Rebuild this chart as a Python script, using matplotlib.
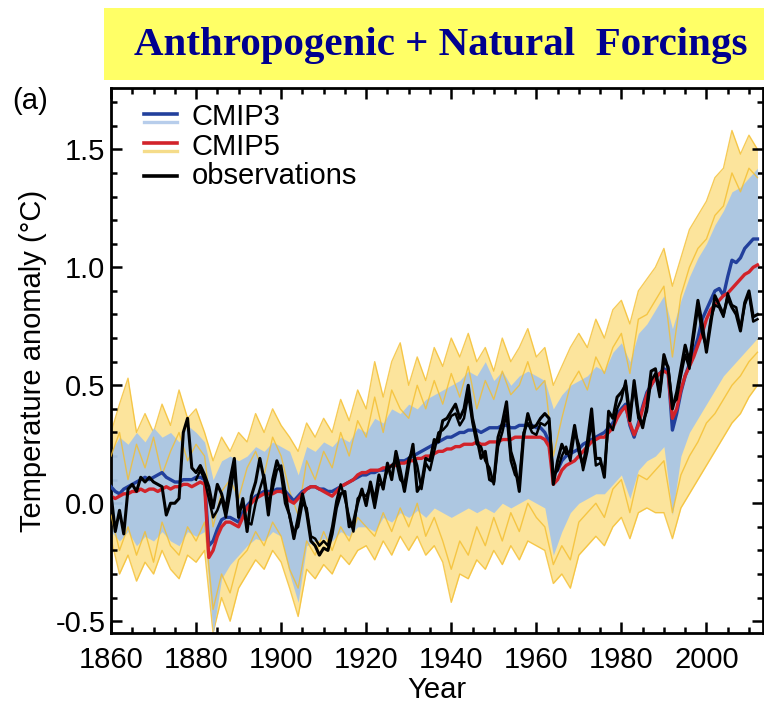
import numpy as np
import matplotlib
matplotlib.use("Agg")
import matplotlib.pyplot as plt
from matplotlib.patches import Rectangle
from matplotlib.lines import Line2D
from matplotlib.legend_handler import HandlerBase
from matplotlib.ticker import MultipleLocator, FormatStrFormatter

# ---------------- data ----------------
years = list(range(1860, 2013))            # annual
env_years = list(range(1860, 2013, 2))     # ensemble envelope sampling

obs_a = [
    0.04, -0.12, -0.03, -0.13, 0.06, 0.08, 0.05, 0.11, 0.09, 0.11,
    0.09, 0.08, 0.07, -0.05, 0.00, 0.00, 0.02, 0.30, 0.36, 0.15,
    0.13, 0.16, 0.12, 0.07, -0.02, 0.08, 0.04, -0.03, 0.10, 0.19,
    -0.06, 0.02, -0.12, 0.03, 0.09, 0.19, 0.10, -0.05, 0.10, 0.18,
    0.13, 0.00, -0.05, -0.15, -0.06, 0.04, -0.04, -0.16, -0.18, -0.22,
    -0.19, -0.20, -0.13, -0.02, 0.04, 0.05, -0.10, -0.08, 0.00, 0.06,
    -0.01, 0.09, 0.01, 0.12, 0.06, 0.17, 0.10, 0.22, 0.14, 0.05,
    0.16, 0.25, 0.05, 0.08, 0.19, 0.18, 0.27, 0.26, 0.35, 0.36,
    0.39, 0.42, 0.36, 0.40, 0.50, 0.36, 0.28, 0.19, 0.22, 0.10,
    0.09, 0.28, 0.34, 0.43, 0.22, 0.16, 0.05, 0.28, 0.38, 0.32,
    0.33, 0.36, 0.38, 0.36, 0.08, 0.18, 0.25, 0.21, 0.22, 0.33,
    0.22, 0.16, 0.26, 0.40, 0.19, 0.19, 0.11, 0.39, 0.36, 0.45,
    0.47, 0.50, 0.35, 0.52, 0.38, 0.32, 0.41, 0.56, 0.57, 0.47,
    0.63, 0.57, 0.40, 0.47, 0.57, 0.67, 0.60, 0.73, 0.86, 0.76,
    0.64, 0.76, 0.88, 0.84, 0.80, 0.87, 0.83, 0.80, 0.73, 0.85,
    0.90, 0.79, 0.80,
]

obs_b_years = list(range(1880, 2013))
obs_b = [
    0.10, 0.14, 0.10, 0.02, -0.06, -0.03, 0.02, -0.06, 0.04, 0.15,
    -0.04, 0.00, -0.08, -0.09, 0.00, 0.06, 0.12, 0.00, 0.06, 0.14,
    0.16, 0.05, -0.06, -0.12, -0.10, 0.00, -0.02, -0.14, -0.15, -0.18,
    -0.16, -0.18, -0.10, 0.01, 0.08, 0.02, -0.06, -0.12, 0.02, 0.04,
    0.03, 0.07, -0.02, 0.08, 0.08, 0.14, 0.16, 0.18, 0.10, 0.08,
    0.19, 0.22, 0.16, 0.06, 0.17, 0.14, 0.22, 0.30, 0.31, 0.33,
    0.37, 0.38, 0.33, 0.36, 0.46, 0.34, 0.25, 0.24, 0.18, 0.15,
    0.08, 0.24, 0.30, 0.38, 0.18, 0.12, 0.10, 0.30, 0.34, 0.30,
    0.29, 0.34, 0.33, 0.35, 0.12, 0.14, 0.20, 0.24, 0.18, 0.30,
    0.25, 0.14, 0.22, 0.35, 0.16, 0.17, 0.14, 0.34, 0.31, 0.40,
    0.44, 0.52, 0.38, 0.49, 0.36, 0.34, 0.39, 0.52, 0.55, 0.45,
    0.60, 0.58, 0.42, 0.44, 0.54, 0.63, 0.57, 0.70, 0.83, 0.72,
    0.66, 0.78, 0.84, 0.83, 0.79, 0.89, 0.84, 0.83, 0.74, 0.84,
    0.89, 0.77, 0.78,
]

cmip5_mean = [
    0.03, 0.02, 0.03, 0.04, 0.04, 0.05, 0.05, 0.06, 0.05, 0.06,
    0.06, 0.05, 0.06, 0.07, 0.06, 0.07, 0.07, 0.08, 0.08, 0.07,
    0.08, 0.09, 0.08, -0.23, -0.20, -0.14, -0.10, -0.08, -0.08, -0.09,
    -0.10, -0.06, -0.02, 0.00, 0.02, 0.03, 0.04, 0.04, 0.04, 0.05,
    0.05, 0.04, 0.01, 0.00, 0.02, 0.04, 0.06, 0.07, 0.07, 0.06,
    0.05, 0.04, 0.03, 0.05, 0.07, 0.08, 0.09, 0.10, 0.12, 0.13,
    0.13, 0.14, 0.14, 0.14, 0.15, 0.15, 0.16, 0.16, 0.17, 0.17,
    0.18, 0.18, 0.19, 0.19, 0.20, 0.20, 0.21, 0.22, 0.22, 0.23,
    0.23, 0.24, 0.24, 0.25, 0.25, 0.25, 0.26, 0.25, 0.25, 0.26,
    0.26, 0.26, 0.27, 0.27, 0.27, 0.28, 0.28, 0.28, 0.28, 0.28,
    0.28, 0.28, 0.27, 0.24, 0.08, 0.10, 0.14, 0.16, 0.17, 0.18,
    0.20, 0.22, 0.24, 0.26, 0.27, 0.28, 0.28, 0.30, 0.32, 0.36,
    0.39, 0.41, 0.34, 0.29, 0.33, 0.40, 0.46, 0.50, 0.53, 0.55,
    0.56, 0.55, 0.36, 0.40, 0.48, 0.54, 0.58, 0.62, 0.67, 0.72,
    0.78, 0.82, 0.84, 0.86, 0.88, 0.89, 0.91, 0.93, 0.95, 0.97,
    0.98, 1.00, 1.01,
]

cmip3_mean = [
    0.07, 0.05, 0.04, 0.06, 0.07, 0.08, 0.09, 0.10, 0.11, 0.10,
    0.11, 0.12, 0.13, 0.11, 0.10, 0.09, 0.09, 0.10, 0.10, 0.10,
    0.11, 0.11, 0.10, -0.18, -0.16, -0.11, -0.07, -0.06, -0.06, -0.07,
    -0.08, -0.04, -0.01, 0.01, 0.03, 0.04, 0.05, 0.05, 0.05, 0.06,
    0.06, 0.05, 0.03, 0.01, 0.03, 0.05, 0.06, 0.07, 0.07, 0.06,
    0.06, 0.05, 0.05, 0.06, 0.07, 0.08, 0.09, 0.10, 0.11, 0.12,
    0.12, 0.13, 0.13, 0.14, 0.14, 0.15, 0.16, 0.17, 0.18, 0.18,
    0.19, 0.20, 0.21, 0.22, 0.23, 0.24, 0.25, 0.26, 0.27, 0.28,
    0.28, 0.29, 0.30, 0.30, 0.31, 0.31, 0.31, 0.30, 0.31, 0.32,
    0.32, 0.32, 0.33, 0.33, 0.32, 0.32, 0.33, 0.33, 0.33, 0.33,
    0.32, 0.32, 0.30, 0.26, 0.12, 0.14, 0.18, 0.20, 0.21, 0.22,
    0.23, 0.25, 0.26, 0.27, 0.28, 0.29, 0.30, 0.32, 0.34, 0.38,
    0.40, 0.42, 0.33, 0.28, 0.34, 0.41, 0.47, 0.50, 0.53, 0.55,
    0.57, 0.56, 0.31, 0.38, 0.47, 0.54, 0.59, 0.64, 0.70, 0.78,
    0.82, 0.86, 0.90, 0.91, 0.88, 0.96, 1.03, 1.02, 1.04, 1.08,
    1.10, 1.12, 1.12,
]

cmip5_upper = [
    0.30, 0.42, 0.53, 0.30, 0.38, 0.30, 0.42, 0.33, 0.48, 0.36,
    0.40, 0.30, 0.18, 0.28, 0.22, 0.30, 0.26, 0.38, 0.30, 0.40,
    0.33, 0.28, 0.22, 0.34, 0.28, 0.36, 0.30, 0.44, 0.35, 0.48,
    0.40, 0.60, 0.45, 0.60, 0.68, 0.50, 0.62, 0.52, 0.66, 0.58,
    0.70, 0.62, 0.72, 0.60, 0.66, 0.56, 0.70, 0.60, 0.66, 0.74,
    0.62, 0.66, 0.50, 0.58, 0.66, 0.72, 0.66, 0.78, 0.70, 0.82,
    0.86, 0.76, 0.90, 0.95, 1.00, 1.08, 0.92, 1.04, 1.16, 1.22,
    1.28, 1.38, 1.42, 1.58, 1.48, 1.56, 1.50,
]
cmip5_lower = [
    -0.15, -0.30, -0.22, -0.33, -0.25, -0.30, -0.20, -0.28, -0.32, -0.22,
    -0.25, -0.20, -0.55, -0.40, -0.50, -0.36, -0.30, -0.24, -0.28, -0.20,
    -0.25, -0.36, -0.48, -0.28, -0.32, -0.26, -0.30, -0.22, -0.26, -0.20,
    -0.18, -0.24, -0.16, -0.22, -0.14, -0.20, -0.14, -0.22, -0.18, -0.25,
    -0.42, -0.30, -0.32, -0.24, -0.28, -0.20, -0.26, -0.18, -0.24, -0.16,
    -0.18, -0.20, -0.34, -0.30, -0.36, -0.22, -0.18, -0.14, -0.18, -0.10,
    -0.06, -0.15, -0.04, -0.02, -0.04, -0.04, -0.15, -0.02, 0.04, 0.10,
    0.16, 0.22, 0.28, 0.34, 0.38, 0.45, 0.50,
]
cmip3_upper = [
    0.22, 0.28, 0.25, 0.30, 0.26, 0.32, 0.28, 0.30, 0.26, 0.33,
    0.30, 0.26, 0.10, 0.18, 0.20, 0.18, 0.20, 0.24, 0.22, 0.26,
    0.24, 0.22, 0.12, 0.24, 0.22, 0.26, 0.24, 0.28, 0.26, 0.32,
    0.30, 0.36, 0.34, 0.40, 0.38, 0.42, 0.40, 0.44, 0.46, 0.48,
    0.50, 0.52, 0.56, 0.54, 0.60, 0.52, 0.56, 0.50, 0.54, 0.56,
    0.54, 0.52, 0.40, 0.46, 0.50, 0.52, 0.54, 0.58, 0.56, 0.64,
    0.68, 0.60, 0.72, 0.76, 0.82, 0.88, 0.74, 0.86, 0.96, 1.04,
    1.10, 1.18, 1.24, 1.32, 1.34, 1.38, 1.42,
]
cmip3_lower = [
    -0.12, -0.16, -0.12, -0.18, -0.14, -0.16, -0.12, -0.16, -0.18, -0.12,
    -0.14, -0.12, -0.55, -0.32, -0.26, -0.22, -0.18, -0.15, -0.16, -0.12,
    -0.14, -0.30, -0.42, -0.18, -0.16, -0.15, -0.16, -0.12, -0.14, -0.10,
    -0.10, -0.12, -0.06, -0.08, -0.04, -0.06, -0.03, -0.06, -0.02, -0.04,
    -0.06, -0.04, -0.02, -0.04, -0.02, -0.04, 0.00, -0.02, 0.00, 0.02,
    0.00, -0.02, -0.22, -0.12, -0.04, 0.00, 0.02, 0.04, 0.04, 0.08,
    0.12, 0.02, 0.14, 0.18, 0.20, 0.24, -0.05, 0.20, 0.30, 0.36,
    0.42, 0.48, 0.54, 0.58, 0.62, 0.66, 0.70,
]
cmip5_run_a = [
    0.20, 0.30, 0.10, 0.25, 0.15, 0.28, 0.12, 0.22, 0.30, 0.18,
    0.25, 0.20, -0.10, 0.05, 0.10, 0.02, 0.15, 0.22, 0.12, 0.28,
    0.20, 0.05, -0.05, 0.18, 0.10, 0.22, 0.15, 0.30, 0.20, 0.35,
    0.28, 0.45, 0.30, 0.48, 0.40, 0.36, 0.50, 0.40, 0.52, 0.42,
    0.55, 0.45, 0.58, 0.40, 0.52, 0.44, 0.56, 0.46, 0.50, 0.60,
    0.48, 0.52, 0.20, 0.36, 0.50, 0.56, 0.48, 0.62, 0.55, 0.66,
    0.72, 0.55, 0.78, 0.80, 0.86, 0.92, 0.62, 0.88, 1.00, 1.08,
    1.12, 1.22, 1.26, 1.40, 1.32, 1.42, 1.38,
]
cmip5_run_b = [
    -0.05, -0.20, -0.10, -0.22, -0.12, -0.25, -0.08, -0.18, -0.22, -0.10,
    -0.16, -0.08, -0.45, -0.30, -0.38, -0.24, -0.20, -0.12, -0.18, -0.08,
    -0.14, -0.28, -0.36, -0.16, -0.22, -0.12, -0.20, -0.10, -0.16, -0.06,
    -0.10, -0.14, -0.04, -0.12, -0.02, -0.10, 0.00, -0.14, -0.06, -0.16,
    -0.28, -0.16, -0.22, -0.10, -0.18, -0.06, -0.16, -0.04, -0.12, 0.00,
    -0.06, -0.10, -0.26, -0.18, -0.24, -0.08, -0.04, 0.00, -0.06, 0.06,
    0.10, -0.04, 0.12, 0.10, 0.14, 0.18, -0.04, 0.12, 0.20, 0.26,
    0.34, 0.38, 0.44, 0.50, 0.54, 0.60, 0.64,
]

legend_labels = ["CMIP3", "CMIP5", "observations"]
x_ticks = [1860, 1880, 1900, 1920, 1940, 1960, 1980, 2000]
y_ticks = [-0.5, 0.0, 0.5, 1.0, 1.5]

# ---------------- style ----------------
plt.rcParams["font.family"] = ["Liberation Sans", "DejaVu Sans"]
plt.rcParams["axes.unicode_minus"] = False

C_YEL = "#F4BE2E"
C_YEL_L = "#FCE49C"
C_LBLUE = "#A9C6E6"
C_BLUE = "#22409C"
C_RED = "#D2232A"

W, H = 764, 704
fig = plt.figure(figsize=(W / 100, H / 100), dpi=100)
fig.patch.set_facecolor("white")

# yellow title banner
fig.patches.append(Rectangle((104 / W, 1 - 80 / H), (W - 104) / W, 72 / H,
                             transform=fig.transFigure, facecolor="#FFFF66",
                             edgecolor="none", zorder=0))
fig.text(0.577, 1 - 45 / H, "Anthropogenic + Natural  Forcings",
         family=["Liberation Serif", "DejaVu Serif"], weight="bold",
         fontsize=29.5, color="#00008F", ha="center", va="center")
fig.text(12 / W, 1 - 101 / H, "(a)", fontsize=21, ha="left", va="center")

ax = fig.add_axes([111 / W, 1 - 633 / H, (763 - 111) / W, (633 - 88) / H])

# ensemble spreads
ax.fill_between(env_years, cmip5_lower, cmip5_upper, color=C_YEL_L,
                lw=0, zorder=1)
ax.plot(env_years, cmip5_upper, color=C_YEL, lw=1.0, alpha=0.8, zorder=1.5)
ax.plot(env_years, cmip5_lower, color=C_YEL, lw=1.0, alpha=0.8, zorder=1.5)
ax.fill_between(env_years, cmip3_lower, cmip3_upper, color=C_LBLUE,
                lw=0, alpha=0.95, zorder=2)
ax.plot(env_years, cmip5_run_a, color=C_YEL, lw=1.0, alpha=0.8, zorder=3)
ax.plot(env_years, cmip5_run_b, color=C_YEL, lw=1.0, alpha=0.8, zorder=3)

# means and observations
ax.plot(years, cmip3_mean, color=C_BLUE, lw=2.4, zorder=4)
ax.plot(years, cmip5_mean, color=C_RED, lw=2.4, zorder=5)
ax.plot(obs_b_years, obs_b, color="black", lw=1.8, zorder=6)
ax.plot(years, obs_a, color="black", lw=2.2, zorder=7)

ax.set_xlim(1860, 2013.3)
ax.set_ylim(-0.55, 1.76)
ax.set_xticks(x_ticks)
ax.set_yticks(y_ticks)
ax.xaxis.set_minor_locator(MultipleLocator(5))
ax.yaxis.set_minor_locator(MultipleLocator(0.1))
ax.yaxis.set_major_formatter(FormatStrFormatter("%.1f"))
ax.tick_params(which="both", direction="in", top=True, right=True,
               labelsize=21, width=1.8)
ax.tick_params(which="major", length=8)
ax.tick_params(which="minor", length=4)
ax.tick_params(axis="x", which="major", pad=9)
ax.tick_params(axis="y", which="major", pad=4)
for s in ax.spines.values():
    s.set_linewidth(2.0)
ax.set_xlabel("Year", fontsize=21, labelpad=2)
ax.set_ylabel("Temperature anomaly (°C)", fontsize=21, labelpad=6)


class StackedHandler(HandlerBase):
    def __init__(self, top, bottom):
        super().__init__()
        self.top, self.bottom = top, bottom

    def create_artists(self, legend, orig_handle, xdescent, ydescent,
                       width, height, fontsize, trans):
        x0, x1 = -xdescent, -xdescent + width
        arts = []
        if self.bottom is not None:
            arts.append(Line2D([x0, x1], [0.18 * height - ydescent] * 2,
                               color=self.bottom, lw=2.4, transform=trans))
            arts.append(Line2D([x0, x1], [0.55 * height - ydescent] * 2,
                               color=self.top, lw=2.6, transform=trans))
        else:
            arts.append(Line2D([x0, x1], [0.4 * height - ydescent] * 2,
                               color=self.top, lw=2.6, transform=trans))
        return arts


h3, h5, ho = object(), object(), object()
leg = ax.legend([h3, h5, ho], legend_labels, loc="upper left",
                bbox_to_anchor=(0.05, 0.972), frameon=False, fontsize=21,
                handlelength=1.15, handletextpad=0.5, labelspacing=0.05,
                borderpad=0, borderaxespad=0,
                handler_map={h3: StackedHandler(C_BLUE, "#B7CDEB"),
                             h5: StackedHandler(C_RED, "#F5DC8A"),
                             ho: StackedHandler("black", None)})
leg.set_zorder(10)

fig.savefig("out.png", dpi=100, facecolor="white")
